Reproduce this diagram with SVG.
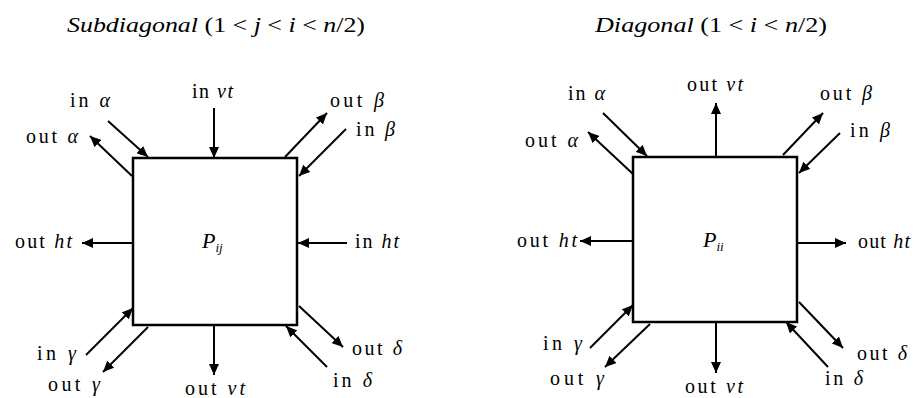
<svg xmlns="http://www.w3.org/2000/svg" width="919" height="398" viewBox="0 0 919 398">
<style>
text{font-family:"Liberation Serif","Times New Roman",serif;font-size:20px;fill:#000}
.t{font-size:21px;font-style:italic}
.i{font-style:italic}
.box{fill:#fff;stroke:#000;stroke-width:2.5}
.c line{stroke:#000;stroke-width:2}
.a{marker-end:url(#ah)}
</style>
<defs>
<marker id="ah" markerUnits="userSpaceOnUse" markerWidth="12" markerHeight="10" refX="11" refY="5" orient="auto">
<path d="M0,0 L11,5 L0,10 z" fill="#000"/>
</marker>
</defs>
<text class="t" x="67" y="32" textLength="298" lengthAdjust="spacingAndGlyphs">Subdiagonal <tspan font-style="normal">(1 &lt; </tspan>j<tspan font-style="normal"> &lt; </tspan>i<tspan font-style="normal"> &lt; </tspan>n<tspan font-style="normal">/2)</tspan></text>
<text class="t" x="595" y="32" textLength="232" lengthAdjust="spacingAndGlyphs">Diagonal <tspan font-style="normal">(1 &lt; </tspan>i<tspan font-style="normal"> &lt; </tspan>n<tspan font-style="normal">/2)</tspan></text>

<g id="Pij">
<rect class="box" x="133" y="158" width="164" height="167"/>
<text x="202" y="248"><tspan class="i" font-size="22">P</tspan><tspan class="i" font-size="13" dy="4">ij</tspan></text>
</g>
<g id="Pii">
<rect class="box" x="633" y="157" width="164" height="165"/>
<text x="703" y="247"><tspan class="i" font-size="22">P</tspan><tspan class="i" font-size="13" dy="4">ii</tspan></text>
</g>

<g id="connectors" class="c">
<!-- left -->
<line class="a" x1="108" y1="121" x2="148" y2="157"/>
<line class="a" x1="132" y1="176" x2="90" y2="136"/>
<line class="a" x1="214" y1="108" x2="214" y2="158"/>
<line class="a" x1="285" y1="157" x2="327" y2="113"/>
<line class="a" x1="346" y1="129" x2="299" y2="176"/>
<line class="a" x1="347" y1="243" x2="298" y2="243"/>
<line class="a" x1="299" y1="306" x2="343" y2="347"/>
<line class="a" x1="327" y1="367" x2="286" y2="326"/>
<line class="a" x1="133" y1="243" x2="82" y2="243"/>
<line class="a" x1="86" y1="355" x2="133" y2="308"/>
<line class="a" x1="148" y1="327" x2="103" y2="372"/>
<line class="a" x1="214" y1="325" x2="214" y2="375"/>
<!-- right -->
<line class="a" x1="603" y1="113" x2="647" y2="156"/>
<line class="a" x1="633" y1="174" x2="588" y2="132"/>
<line class="a" x1="716" y1="157" x2="716" y2="103"/>
<line class="a" x1="783" y1="155" x2="823" y2="113"/>
<line class="a" x1="840" y1="133" x2="799" y2="173"/>
<line class="a" x1="797" y1="243" x2="846" y2="243"/>
<line class="a" x1="799" y1="302" x2="843" y2="348"/>
<line class="a" x1="828" y1="367" x2="786" y2="322"/>
<line class="a" x1="633" y1="241" x2="580" y2="241"/>
<line class="a" x1="590" y1="348" x2="633" y2="305"/>
<line class="a" x1="650" y1="324" x2="605" y2="367"/>
<line class="a" x1="716" y1="323" x2="716" y2="373"/>
</g>

<g id="labels">
<text x="70" y="107" textLength="40">in <tspan class="i">α</tspan></text>
<text x="26" y="143" textLength="52">out <tspan class="i">α</tspan></text>
<text x="192" y="98" textLength="41">in <tspan class="i">vt</tspan></text>
<text x="330" y="107" textLength="54">out <tspan class="i">β</tspan></text>
<text x="356" y="136" textLength="39">in <tspan class="i">β</tspan></text>
<text x="355" y="248" textLength="44">in <tspan class="i">ht</tspan></text>
<text x="352" y="355" textLength="50">out <tspan class="i">δ</tspan></text>
<text x="333" y="387" textLength="39">in <tspan class="i">δ</tspan></text>
<text x="15" y="248" textLength="57">out <tspan class="i">ht</tspan></text>
<text x="37" y="360" textLength="39">in <tspan class="i">γ</tspan></text>
<text x="48" y="391" textLength="52">out <tspan class="i">γ</tspan></text>
<text x="185" y="395" textLength="60">out <tspan class="i">vt</tspan></text>

<text x="568" y="100" textLength="37">in <tspan class="i">α</tspan></text>
<text x="525" y="147" textLength="53">out <tspan class="i">α</tspan></text>
<text x="687" y="91" textLength="56">out <tspan class="i">vt</tspan></text>
<text x="820" y="100" textLength="52">out <tspan class="i">β</tspan></text>
<text x="850" y="137" textLength="40">in <tspan class="i">β</tspan></text>
<text x="858" y="248" textLength="52">out <tspan class="i">ht</tspan></text>
<text x="857" y="360" textLength="50">out <tspan class="i">δ</tspan></text>
<text x="825" y="385" textLength="38">in <tspan class="i">δ</tspan></text>
<text x="517" y="247" textLength="60">out <tspan class="i">ht</tspan></text>
<text x="543" y="350" textLength="39">in <tspan class="i">γ</tspan></text>
<text x="550" y="385" textLength="54">out <tspan class="i">γ</tspan></text>
<text x="685" y="393" textLength="58">out <tspan class="i">vt</tspan></text>
</g>
</svg>
